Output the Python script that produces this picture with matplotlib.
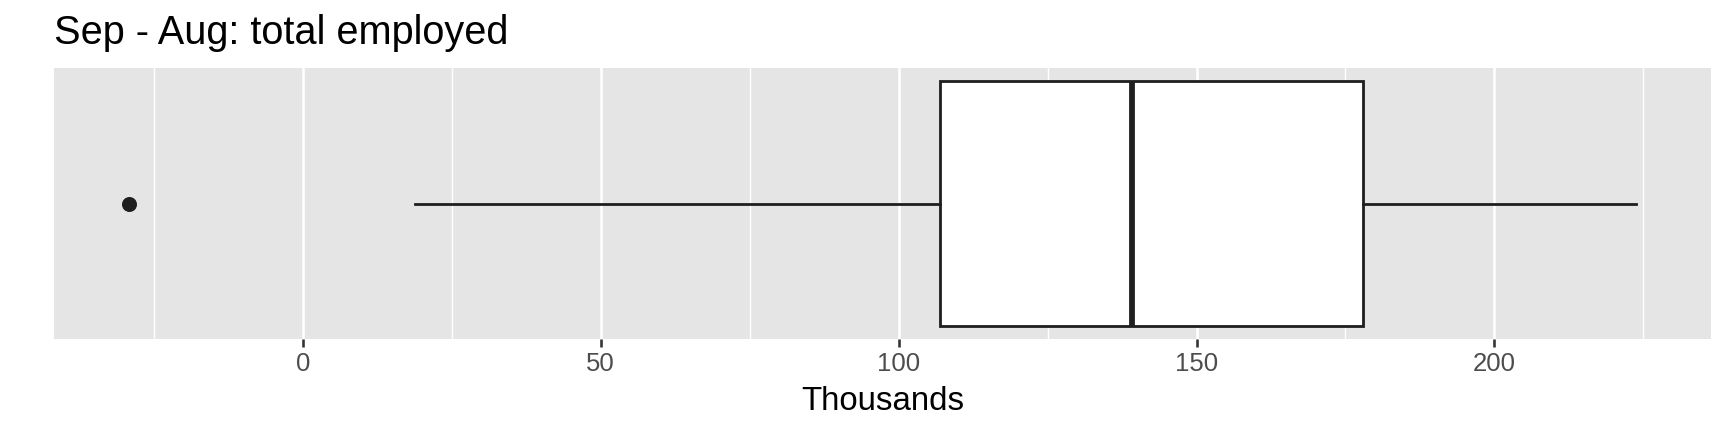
import matplotlib
matplotlib.use("Agg")
import matplotlib.pyplot as plt
from matplotlib.ticker import MultipleLocator

# Box summary (thousands)
label = "Sep - Aug"
whisker_low = 18.9
q1 = 107.0
median = 139.2
q3 = 178.0
whisker_high = 223.7
outliers = [-29.1]

x_ticks = [0, 50, 100, 150, 200]

plt.rcParams["font.family"] = ["Liberation Sans", "DejaVu Sans"]

fig = plt.figure(figsize=(12, 3), dpi=144)
ax = fig.add_axes([54 / 1728, 1 - 339 / 432, (1711 - 54) / 1728, (339 - 68) / 432])

stats = [{
    "label": label,
    "whislo": whisker_low,
    "q1": q1,
    "med": median,
    "q3": q3,
    "whishi": whisker_high,
    "fliers": outliers,
}]

ink = "#1f1f1f"
ax.bxp(
    stats, positions=[0], widths=1.0, vert=False, patch_artist=True,
    showcaps=False,
    boxprops=dict(facecolor="white", edgecolor=ink, linewidth=1.4),
    whiskerprops=dict(color=ink, linewidth=1.4),
    medianprops=dict(color=ink, linewidth=2.9, solid_capstyle="butt"),
    flierprops=dict(marker="o", markersize=6.5, markerfacecolor=ink,
                    markeredgecolor=ink, linestyle="none"),
    zorder=3,
)

# ggplot-like expansion of 5% on each side
lo = min(outliers + [whisker_low])
hi = max(outliers + [whisker_high])
span = hi - lo
ax.set_xlim(lo - 0.05 * span, hi + 0.05 * span)
ax.set_ylim(-0.551, 0.551)

ax.set_facecolor("#E5E5E5")
for s in ax.spines.values():
    s.set_visible(False)

ax.set_xticks(x_ticks)
ax.xaxis.set_minor_locator(MultipleLocator(25))
ax.grid(True, which="major", axis="x", color="white", linewidth=1.3, zorder=0)
ax.grid(True, which="minor", axis="x", color="white", linewidth=0.7, zorder=0)
ax.set_axisbelow(True)
ax.tick_params(axis="x", which="major", length=4, width=1.3, color="#333333",
               labelsize=12.9, labelcolor="#4D4D4D", pad=2.5)
ax.tick_params(axis="x", which="minor", length=0)
ax.set_yticks([])

ax.set_xlabel("Thousands", fontsize=16.5, color="black", labelpad=5)

fig.text(54 / 1728, 1 - 44 / 432, "Sep - Aug: total employed",
         fontsize=19.9, color="black", ha="left", va="baseline")

fig.savefig("out.png", dpi=144)
